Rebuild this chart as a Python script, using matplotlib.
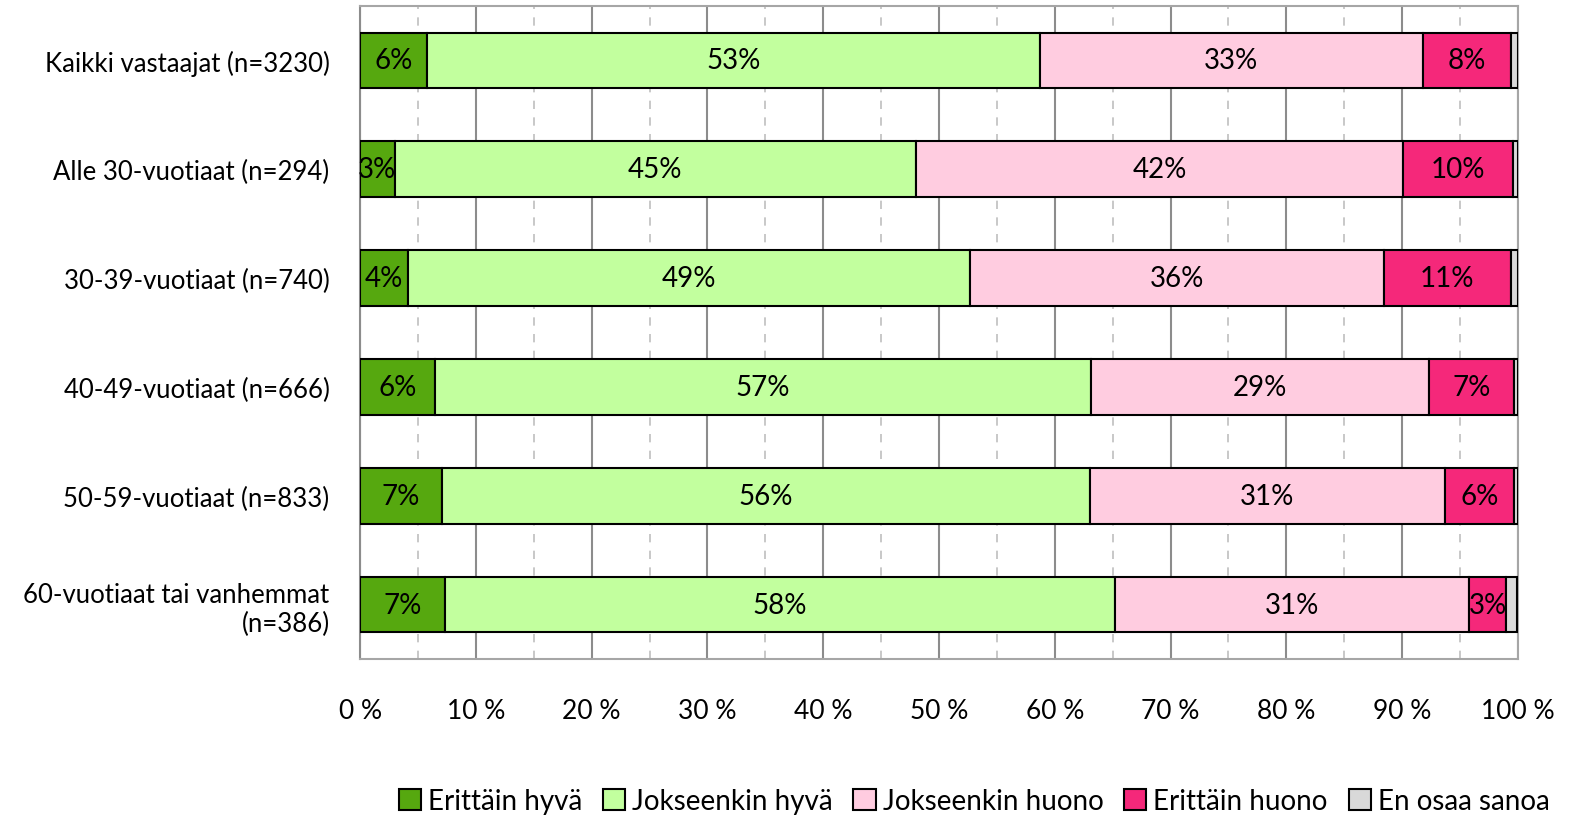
import matplotlib.pyplot as plt
import numpy as np
from matplotlib.ticker import MultipleLocator, FuncFormatter

plt.rcParams['font.family'] = ['Lato', 'DejaVu Sans']

# Data
groups = ["Kaikki vastaajat (n=3230)", "Alle 30-vuotiaat (n=294)", "30-39-vuotiaat (n=740)",
          "40-49-vuotiaat (n=666)", "50-59-vuotiaat (n=833)", "60-vuotiaat tai vanhemmat\n(n=386)"]
series = ["Erittäin hyvä", "Jokseenkin hyvä", "Jokseenkin huono", "Erittäin huono", "En osaa sanoa"]
erittain_hyva = [5.8, 3.0, 4.1, 6.5, 7.1, 7.3]
jokseenkin_hyva = [52.9, 45.0, 48.6, 56.6, 55.9, 57.9]
jokseenkin_huono = [33.1, 42.1, 35.7, 29.2, 30.7, 30.6]
erittain_huono = [7.6, 9.5, 11.0, 7.4, 6.0, 3.2]
en_osaa = [0.6, 0.4, 0.6, 0.3, 0.3, 0.9]
colors = ["#56A80F", "#C2FF9E", "#FFCCE0", "#F5287A", "#D9D9D9"]

values = [erittain_hyva, jokseenkin_hyva, jokseenkin_huono, erittain_huono, en_osaa]

fig = plt.figure(figsize=(15.89, 8.20), dpi=100)
ax = fig.add_axes([0.2266, 0.1951, 0.7287, 0.7964])

y = np.arange(len(groups))
left = np.zeros(len(groups))
for name, vals, col in zip(series, values, colors):
    vals = np.array(vals)
    ax.barh(y, vals, left=left, height=0.51, color=col, edgecolor="black",
            linewidth=1.5, label=name, zorder=3)
    if name != "En osaa sanoa":
        for i, v in enumerate(vals):
            ax.text(left[i] + v / 2, y[i], f"{round(v):.0f}%", ha="center", va="center",
                    fontsize=20, zorder=4)
    left += vals

ax.set_xlim(0, 100)
ax.set_ylim(len(groups) - 0.5, -0.5)
ax.set_yticks(y)
ax.set_yticklabels(groups, fontsize=18.5)
ax.xaxis.set_major_locator(MultipleLocator(10))
ax.xaxis.set_minor_locator(MultipleLocator(5))
ax.xaxis.set_major_formatter(FuncFormatter(lambda v, p: f"{v:.0f} %"))
ax.tick_params(axis="x", which="both", length=0, labelsize=19, pad=28)
ax.tick_params(axis="y", length=0, pad=22)
ax.grid(axis="x", which="major", color="#8C8C8C", linewidth=1.5, zorder=0)
ax.grid(axis="x", which="minor", color="#BFBFBF", linewidth=1.2, linestyle=(0, (5, 5)), zorder=0)
for s in ax.spines.values():
    s.set_color("#A6A6A6")
    s.set_linewidth(1.5)
ax.spines["left"].set_color("#8C8C8C")

fig.legend(loc="center", bbox_to_anchor=(0.613, 0.022), ncol=5, frameon=False, fontsize=20,
           handlelength=0.8, handleheight=0.8, handletextpad=0.25, columnspacing=0.75)

fig.savefig("out.png", dpi=100)
